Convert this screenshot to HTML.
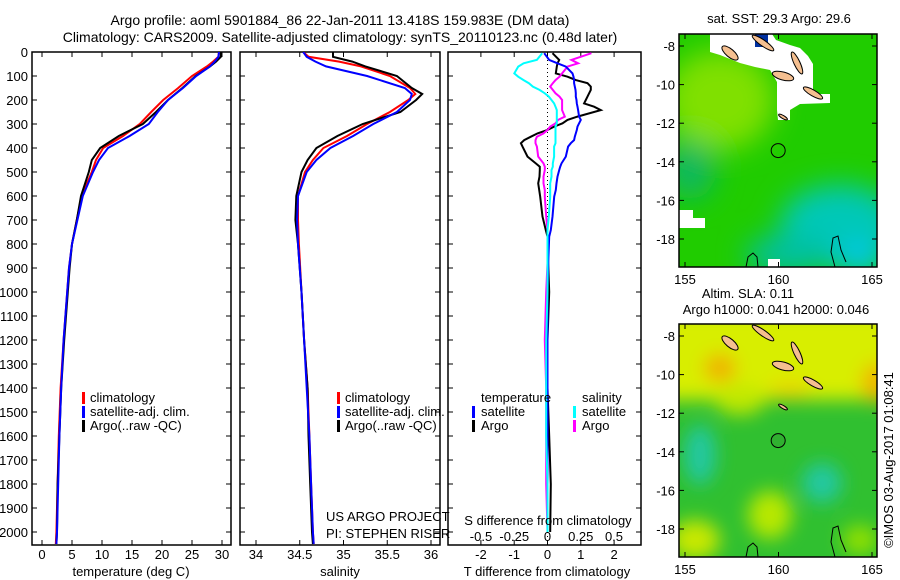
<!DOCTYPE html>
<html><head><meta charset="utf-8">
<style>
body{margin:0;background:#fff;}
svg{display:block;font-family:"Liberation Sans",sans-serif;}
text{font-size:13px;fill:#000;}
</style></head>
<body>
<svg id="fig" width="900" height="580" viewBox="0 0 900 580">
<defs>
<clipPath id="cp1"><rect x="32" y="52" width="199" height="493"/></clipPath>
<clipPath id="cp2"><rect x="240" y="52" width="200" height="493"/></clipPath>
<clipPath id="cp3"><rect x="448" y="52" width="193" height="493"/></clipPath>
<clipPath id="cpm"><rect x="679" y="34" width="198" height="233"/></clipPath>
<filter id="bl" x="-50%" y="-50%" width="200%" height="200%"><feGaussianBlur stdDeviation="14"/></filter>
<filter id="bl2" x="-50%" y="-50%" width="200%" height="200%"><feGaussianBlur stdDeviation="9"/></filter>
</defs>
<text x="340" y="25" text-anchor="middle" style="font-size:14px">Argo profile: aoml 5901884_86 22-Jan-2011 13.418S 159.983E (DM data)</text>
<text x="340" y="42" text-anchor="middle" style="font-size:14px">Climatology: CARS2009. Satellite-adjusted climatology: synTS_20110123.nc (0.48d later)</text>
<g id="g1"></g>
<g id="g2"></g>
<g id="g3"></g>
<g id="maps"></g>
<text transform="translate(893,460) rotate(-90)" text-anchor="middle">©IMOS 03-Aug-2017 01:08:41</text>
</svg>
<script>
// ---- data ----
const depthsT = [0,20,40,60,100,150,200,250,300,350,400,450,500,600,700,800,900,1000,1200,1400,1600,1800,2000,2050];
const tempClim = [29.5,29.4,28.5,27.5,25.0,22.7,20.2,18.2,16.3,13.5,10.2,9.0,8.3,6.6,5.8,5.0,4.5,4.2,3.6,3.1,2.8,2.6,2.4,2.3];
const tempSat  = [29.5,29.4,28.8,28.0,25.7,23.5,21.0,19.3,17.8,14.6,11.0,9.5,8.5,6.8,5.9,5.0,4.5,4.2,3.6,3.2,2.9,2.7,2.5,2.4];
const tempArgo = [29.8,29.8,29.0,28.0,25.6,23.4,21.0,19.0,16.8,12.8,9.7,8.3,7.8,6.5,5.8,5.0,4.6,4.3,3.7,3.2,2.9,2.6,2.5,2.4];
const depthsS = [0,20,40,60,100,150,175,200,250,300,350,400,450,500,600,700,800,1000,1200,1400,1600,1800,2000,2050];
const salClim = [34.54,34.6,34.95,35.2,35.53,35.76,35.82,35.74,35.53,35.27,35.04,34.77,34.65,34.56,34.48,34.48,34.49,34.52,34.55,34.59,34.61,34.63,34.65,34.66];
const salSat  = [34.54,34.58,34.68,34.8,35.27,35.70,35.78,35.76,35.61,35.34,35.11,34.85,34.69,34.58,34.48,34.47,34.48,34.52,34.55,34.58,34.61,34.63,34.65,34.66];
const salArgo = [34.88,34.88,35.1,35.25,35.61,35.78,35.9,35.83,35.65,35.22,34.93,34.69,34.59,34.52,34.46,34.45,34.48,34.52,34.55,34.59,34.6,34.62,34.64,34.65];
const depthsD = [5,33,47,61,89,103,117,130,144,158,172,186,200,214,228,242,269,283,297,311,325,339,353,367,380,394,436,464,478,492,519,547,575,603,686,742,769,880,1000,1200,1400,1600,1800,2000];
const dTSat  = [-0.1,0.05,0.3,0.55,0.75,0.78,0.8,0.8,0.82,0.84,0.85,0.85,0.87,0.88,0.9,0.92,0.95,1.0,0.95,0.9,0.88,0.85,0.82,0.8,0.7,0.62,0.55,0.42,0.38,0.35,0.3,0.27,0.25,0.2,0.15,0.1,0.05,0.02,0.0,0.0,0.0,0.0,0.0,0.0];
const dTArgo = [0.15,0.35,0.3,0.28,0.25,0.6,0.85,1.2,1.3,1.3,1.25,1.2,1.15,1.1,1.4,1.6,0.9,0.6,0.45,0.2,0.0,-0.3,-0.5,-0.7,-0.8,-0.75,-0.6,-0.35,-0.23,-0.23,-0.24,-0.28,-0.25,-0.22,-0.15,-0.05,0.0,0.02,0.05,0.0,0.0,0.05,0.1,0.08];
const dSSat  = [-0.04,-0.08,-0.18,-0.22,-0.25,-0.22,-0.18,-0.14,-0.11,-0.06,-0.02,0.01,0.03,0.05,0.06,0.07,0.07,0.07,0.07,0.06,0.06,0.06,0.06,0.06,0.06,0.05,0.05,0.04,0.04,0.03,0.03,0.02,0.02,0.02,0.01,0.0,0.0,0.0,0.0,-0.01,-0.01,-0.01,0.0,0.0];
const dSArgo = [0.33,0.18,0.23,0.15,0.11,0.09,0.06,0.04,0.02,0.04,0.06,0.09,0.11,0.11,0.11,0.11,0.13,0.08,0.06,0.02,0.0,-0.03,-0.08,-0.09,-0.09,-0.08,-0.07,-0.03,-0.02,-0.02,-0.03,-0.03,-0.02,-0.02,-0.01,0.0,0.0,0.0,-0.01,-0.02,-0.01,-0.01,-0.01,0.0];
const depthTicks = [0,100,200,300,400,500,600,700,800,900,1000,1100,1200,1300,1400,1500,1600,1700,1800,1900,2000];
const tempTicks = [0,5,10,15,20,25,30];
const salTicks = [34,34.5,35,35.5,36];
const tdTicks = [-2,-1,0,1,2];
const sdTicks = [-0.5,-0.25,0,0.25,0.5];
const sdTickLabels = ["-0.5","-0.25","0","0.25","0.5"];
const latTicks = [-8,-10,-12,-14,-16,-18];
const lonTicks = [155,160,165];

// ---- scales ----
const NS="http://www.w3.org/2000/svg";
const yD = d => 52 + d*0.24;
const xT = t => 42 + t*6;
const xS = s => 256 + (s-34)*87.5;
const xTD = v => 547.5 + v*33.3;
const xSD = v => 547.5 + v*133;
function mk(tag, attrs, parent){const e=document.createElementNS(NS,tag);for(const k in attrs)e.setAttribute(k,attrs[k]);parent.appendChild(e);return e;}
function line(parent,xs,ys,xf,color,name,clip){
  const pts=xs.map((v,i)=>xf(v).toFixed(1)+','+yD(ys[i]).toFixed(1)).join(' ');
  const p=mk('polyline',{points:pts,fill:'none',stroke:color,'stroke-width':2,'clip-path':'url(#'+clip+')'},parent);
  
  
}
function frame(parent,x0,x1,name){
  const r=mk('rect',{x:x0,y:52,width:x1-x0,height:493,fill:'none',stroke:'#000','stroke-width':1.5},parent);
  
  
  depthTicks.forEach(d=>{
    mk('line',{x1:x0,x2:x0+5,y1:yD(d),y2:yD(d),stroke:'#000'},parent);
    mk('line',{x1:x1-5,x2:x1,y1:yD(d),y2:yD(d),stroke:'#000'},parent);
  });
}
function xticks(parent,ticks,labels,xf,y,top){
  ticks.forEach((t,i)=>{
    mk('line',{x1:xf(t),x2:xf(t),y1:545,y2:540,stroke:'#000'},parent);
    if(top) mk('line',{x1:xf(t),x2:xf(t),y1:52,y2:57,stroke:'#000'},parent);
    const tx=mk('text',{x:xf(t),y:y,'text-anchor':'middle'},parent);
    tx.textContent=labels[i];
    
    
  });
}
function txt(parent,x,y,s,name,anchor){
  const t=mk('text',{x:x,y:y,'text-anchor':anchor||'start'},parent);t.textContent=s;
  
  
  return t;
}
function legbar(parent,x,y,color){mk('rect',{x:x,y:y-10,width:3,height:12,fill:color},parent);}

// Panel 1
const g1=document.getElementById('g1');
frame(g1,32,231,'temperature-axes');
depthTicks.forEach(d=>{
  const t=mk('text',{x:28,y:yD(d)+5,'text-anchor':'end'},g1);t.textContent=d;
  
  
});
xticks(g1,tempTicks,tempTicks.map(String),xT,559,true);
txt(g1,131,576,'temperature (deg C)','temperature-axis-title','middle');
line(g1,tempClim,depthsT,xT,'#f00','temp-climatology-line','cp1');
line(g1,tempArgo,depthsT,xT,'#000','temp-argo-line','cp1');
line(g1,tempSat,depthsT,xT,'#00f','temp-satellite-line','cp1');
legbar(g1,82,402,'#f00');txt(g1,90,402,'climatology','legend-climatology');
legbar(g1,82,416,'#00f');txt(g1,90,416,'satellite-adj. clim.','legend-satellite');
legbar(g1,82,430,'#000');txt(g1,90,430,'Argo(..raw -QC)','legend-argo');

// Panel 2
const g2=document.getElementById('g2');
frame(g2,240,440,'salinity-axes');
xticks(g2,salTicks,salTicks.map(String),xS,559,true);
txt(g2,340,576,'salinity','salinity-axis-title','middle');
line(g2,salClim,depthsS,xS,'#f00','sal-climatology-line','cp2');
line(g2,salArgo,depthsS,xS,'#000','sal-argo-line','cp2');
line(g2,salSat,depthsS,xS,'#00f','sal-satellite-line','cp2');
legbar(g2,337,402,'#f00');txt(g2,345,402,'climatology','legend-climatology');
legbar(g2,337,416,'#00f');txt(g2,345,416,'satellite-adj. clim.','legend-satellite');
legbar(g2,337,430,'#000');txt(g2,345,430,'Argo(..raw -QC)','legend-argo');
txt(g2,326,521,'US ARGO PROJECT','project-credit');
txt(g2,326,538,'PI: STEPHEN RISER','pi-credit');

// Panel 3
const g3=document.getElementById('g3');
frame(g3,448,641,'difference-axes');
xticks(g3,tdTicks,tdTicks.map(String),xTD,559,false);
tdTicks.forEach(t=>mk('line',{x1:xTD(t),x2:xTD(t),y1:52,y2:57,stroke:'#000'},g3));
txt(g3,547,576,'T difference from climatology','tdiff-axis-title','middle');
mk('line',{x1:547.5,x2:547.5,y1:52,y2:545,stroke:'#000','stroke-dasharray':'1,3'},g3);
line(g3,dTArgo,depthsD,xTD,'#000','tdiff-argo-line','cp3');
line(g3,dSArgo,depthsD,xSD,'#f0f','sdiff-argo-line','cp3');
line(g3,dTSat,depthsD,xTD,'#00f','tdiff-satellite-line','cp3');
line(g3,dSSat,depthsD,xSD,'#0ff','sdiff-satellite-line','cp3');
txt(g3,481,402,'temperature','legend-temperature-heading');
txt(g3,582,402,'salinity','legend-salinity-heading');
legbar(g3,472,416,'#00f');txt(g3,481,416,'satellite','legend-t-satellite');
legbar(g3,472,430,'#000');txt(g3,481,430,'Argo','legend-t-argo');
legbar(g3,573,416,'#0ff');txt(g3,582,416,'satellite','legend-s-satellite');
legbar(g3,573,430,'#f0f');txt(g3,582,430,'Argo','legend-s-argo');
txt(g3,548,525,'S difference from climatology','sdiff-axis-title','middle');
sdTicks.forEach((t,i)=>{txt(g3,xSD(t),541,sdTickLabels[i],'sdiff-tick-label','middle');});

// Maps
const gm=document.getElementById('maps');
const lonX = lon => 685 + (lon-155)*18.7;
const latY = lat => 46 + (-8-lat)*19.3;
function islands(g){
  const isl=[[730,53,10,4,40],[763,43,13,3,35],[783,76,11,4,15],[797,63,3,12,-25],[813,93,11,3,30],[783,117,5,1.5,30]];
  isl.forEach(a=>{
    const e=mk('ellipse',{cx:a[0],cy:a[1],rx:a[2],ry:a[3],fill:'#f5bf90',stroke:'#000','stroke-width':1,transform:'rotate('+a[4]+' '+a[0]+' '+a[1]+')'},g);
    
    
  });
  mk('path',{d:'M746,267 L748,257 L753,253 L757,257 L758,267',fill:'none',stroke:'#000'},g);
  mk('path',{d:'M835,267 L831,252 L833,238 L838,236 L841,250 L846,262',fill:'none',stroke:'#000'},g);
}
function mapFrame(g,off,name){
  const r=mk('rect',{x:679,y:34,width:198,height:233,fill:'none',stroke:'#000','stroke-width':1.5},g);
  
  
  latTicks.forEach(l=>{
    mk('line',{x1:679,x2:684,y1:latY(l),y2:latY(l),stroke:'#000'},g);
    mk('line',{x1:872,x2:877,y1:latY(l),y2:latY(l),stroke:'#000'},g);
    txt(g,675,latY(l)+5,String(l),'lat-tick-label','end');
  });
  lonTicks.forEach(l=>{
    mk('line',{x1:lonX(l),x2:lonX(l),y1:267,y2:262,stroke:'#000'},g);
    mk('line',{x1:lonX(l),x2:lonX(l),y1:34,y2:39,stroke:'#000'},g);
    txt(g,lonX(l),284,String(l),'lon-tick-label','middle');
  });
}
// SST map
const sst=mk('g',{},gm);


const sc=mk('g',{'clip-path':'url(#cpm)'},sst);
mk('rect',{x:679,y:34,width:198,height:233,fill:'#20cc00'},sc);
const sb=mk('g',{filter:'url(#bl)'},sc);
mk('ellipse',{cx:720,cy:100,rx:55,ry:50,fill:'#80e000'},sb);
mk('ellipse',{cx:690,cy:170,rx:25,ry:30,fill:'#10b860'},sb);
mk('ellipse',{cx:840,cy:225,rx:60,ry:40,fill:'#00c8b8'},sb);
mk('ellipse',{cx:790,cy:255,rx:45,ry:20,fill:'#00c0a0'},sb);
mk('ellipse',{cx:860,cy:260,rx:25,ry:15,fill:'#00c8f0'},sb);
mk('polygon',{points:'710,34 772,34 776,40 790,45 800,48 808,56 813,64 813,94 830,94 830,103 800,104 790,110 790,120 778,120 777,110 777,82 770,70 755,67 740,63 720,55 710,52',fill:'#fff'},sc);
mk('rect',{x:755,y:34,width:13,height:13,fill:'#0030a0'},sc);
mk('rect',{x:679,y:210,width:14,height:18,fill:'#fff'},sc);
mk('rect',{x:679,y:218,width:26,height:10,fill:'#fff'},sc);
mk('rect',{x:768,y:259,width:12,height:8,fill:'#fff'},sc);
islands(sc);
mk('circle',{cx:lonX(159.983),cy:latY(-13.418),r:7,fill:'none',stroke:'#000'},sst);
mapFrame(sst,0,'sst-map-frame');
txt(sst,779,23,'sat. SST: 29.3 Argo: 29.6','sst-map-title','middle');
// SLA map
const sla=mk('g',{transform:'translate(0,290)'},gm);


const lc=mk('g',{'clip-path':'url(#cpm)'},sla);
mk('rect',{x:679,y:34,width:198,height:233,fill:'#30c030'},lc);
const lb=mk('g',{filter:'url(#bl2)'},lc);
mk('rect',{x:660,y:20,width:240,height:90,fill:'#d8ee00'},lb);
mk('ellipse',{cx:720,cy:78,rx:16,ry:14,fill:'#f0b000'},lb);
mk('ellipse',{cx:876,cy:93,rx:14,ry:20,fill:'#f0b400'},lb);
mk('ellipse',{cx:790,cy:100,rx:22,ry:10,fill:'#e8d800'},lb);
mk('ellipse',{cx:700,cy:165,rx:16,ry:30,fill:'#20c8a0'},lb);
mk('ellipse',{cx:822,cy:193,rx:20,ry:20,fill:'#20c8a0'},lb);
mk('ellipse',{cx:770,cy:225,rx:22,ry:24,fill:'#b8e800'},lb);
mk('ellipse',{cx:695,cy:250,rx:25,ry:20,fill:'#c8e800'},lb);
mk('ellipse',{cx:860,cy:250,rx:18,ry:15,fill:'#90e000'},lb);
mk('ellipse',{cx:740,cy:110,rx:25,ry:15,fill:'#c0e800'},lb);
islands(lc);
mk('circle',{cx:lonX(159.983),cy:latY(-13.418),r:7,fill:'#30b030',stroke:'#000'},sla);
mapFrame(sla,290,'sla-map-frame');
txt(sla,748,8,'Altim. SLA: 0.11','sla-map-title','middle');
txt(sla,776,24,'Argo h1000: 0.041 h2000: 0.046','sla-map-subtitle','middle');
</script>
</body></html>
